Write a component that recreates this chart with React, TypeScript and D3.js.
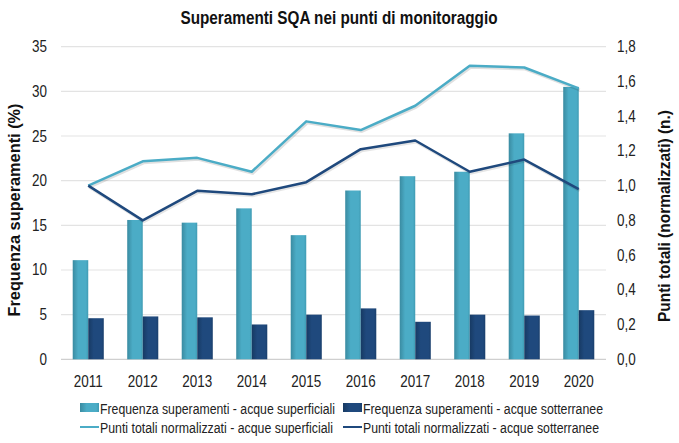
import { useEffect, useRef } from "react"
import * as d3 from "d3"

// Data
const years = ["2011", "2012", "2013", "2014", "2015", "2016", "2017", "2018", "2019", "2020"]
const freqSuperficiali = [11.1, 15.6, 15.3, 16.9, 13.9, 18.9, 20.5, 21.0, 25.3, 30.5]
const freqSotterranee = [4.6, 4.8, 4.7, 3.9, 5.0, 5.7, 4.2, 5.0, 4.9, 5.5]
const puntiSuperficiali = [1.0, 1.14, 1.16, 1.08, 1.37, 1.32, 1.46, 1.69, 1.68, 1.56]
const puntiSotterranee = [1.0, 0.8, 0.97, 0.95, 1.02, 1.21, 1.26, 1.08, 1.15, 0.98]
const leftTicks = [0, 5, 10, 15, 20, 25, 30, 35]
const rightTicks = [0, 0.2, 0.4, 0.6, 0.8, 1.0, 1.2, 1.4, 1.6, 1.8]

const LIGHT = "#4bacc6"
const DARK = "#1f497d"
const FONT = "'Liberation Sans Narrow', 'Arial Narrow', 'Liberation Sans', Arial, sans-serif"

export default function App() {
  const svgRef = useRef<SVGSVGElement>(null)

  useEffect(() => {
    if (!svgRef.current) return
    const width = 679
    const height = 443
    const left = 61
    const right = 606
    const top = 46.7
    const bottom = 359.3

    const root = d3.select(svgRef.current)
    root.selectAll("*").remove()
    root.attr("width", width).attr("height", height).style("font-family", FONT)

    // bar gradients
    const defs = root.append("defs")
    const grad = (id: string, c0: string, c1: string, c2: string) => {
      const g = defs.append("linearGradient").attr("id", id).attr("x1", "0").attr("x2", "1").attr("y1", "0").attr("y2", "0")
      g.append("stop").attr("offset", "0%").attr("stop-color", c0)
      g.append("stop").attr("offset", "35%").attr("stop-color", c1)
      g.append("stop").attr("offset", "85%").attr("stop-color", c1)
      g.append("stop").attr("offset", "100%").attr("stop-color", c2)
    }
    grad("gLight", "#3a8ba1", LIGHT, "#3f9bb3")
    grad("gDark", "#173a63", DARK, "#1a3f6c")

    const x = d3.scaleBand().domain(years).range([left, right]).paddingInner(0.43).paddingOuter(0.215)
    const x1 = d3.scaleBand().domain(["sup", "sot"]).range([0, x.bandwidth()])
    const yL = d3.scaleLinear().domain([0, 35]).range([bottom, top])
    const yR = d3.scaleLinear().domain([0, 1.8]).range([bottom, top])

    // gridlines
    root
      .append("g")
      .selectAll("line")
      .data(leftTicks)
      .join("line")
      .attr("x1", left)
      .attr("x2", right)
      .attr("y1", (d) => yL(d))
      .attr("y2", (d) => yL(d))
      .attr("stroke", (d) => (d === 0 ? "#cfcfcf" : "#e3e3e3"))
      .attr("stroke-width", 1.2)

    // left tick labels
    root
      .append("g")
      .selectAll("text")
      .data(leftTicks)
      .join("text")
      .attr("class", "tick")
      .attr("x", 47)
      .attr("y", (d) => yL(d))
      .attr("text-anchor", "end")
      .attr("dominant-baseline", "central")
      .style("font-size", "16px")
      .style("fill", "#222")
      .text((d) => d)

    // right tick labels
    const fmt = (d: number) => d.toFixed(1).replace(".", ",")
    root
      .append("g")
      .selectAll("text")
      .data(rightTicks)
      .join("text")
      .attr("class", "tick")
      .attr("x", 617)
      .attr("y", (d) => yR(d))
      .attr("text-anchor", "start")
      .attr("dominant-baseline", "central")
      .style("font-size", "16px")
      .style("fill", "#222")
      .text((d) => fmt(d))

    // bars
    const barData = years.flatMap((yr, i) => [
      { yr, key: "sup", v: freqSuperficiali[i] },
      { yr, key: "sot", v: freqSotterranee[i] },
    ])
    root
      .append("g")
      .selectAll("rect")
      .data(barData)
      .join("rect")
      .attr("x", (d) => (x(d.yr) || 0) + (x1(d.key) || 0))
      .attr("y", (d) => yL(d.v))
      .attr("width", x1.bandwidth())
      .attr("height", (d) => yL(0) - yL(d.v))
      .attr("fill", (d) => (d.key === "sup" ? "url(#gLight)" : "url(#gDark)"))

    // lines
    const cx = (yr: string) => (x(yr) || 0) + x.bandwidth() / 2
    const line = d3
      .line<number>()
      .x((_, i) => cx(years[i]))
      .y((d) => yR(d))
    const drawLine = (vals: number[], color: string, shadow: number) => {
      root
        .append("path")
        .attr("d", line(vals))
        .attr("fill", "none")
        .attr("stroke", "#000")
        .attr("stroke-opacity", shadow)
        .attr("stroke-width", 3)
        .attr("transform", "translate(1,1.5)")
      root
        .append("path")
        .attr("d", line(vals))
        .attr("fill", "none")
        .attr("stroke", color)
        .attr("stroke-width", 2.5)
        .attr("stroke-linejoin", "round")
    }
    drawLine(puntiSuperficiali, LIGHT, 0.12)
    drawLine(puntiSotterranee, DARK, 0.1)

    // x labels
    root
      .append("g")
      .selectAll("text")
      .data(years)
      .join("text")
      .attr("class", "tick")
      .attr("x", (d) => cx(d))
      .attr("y", 387)
      .attr("text-anchor", "middle")
      .style("font-size", "16px")
      .style("fill", "#222")
      .text((d) => d)

    // title
    root
      .append("text")
      .attr("x", 339)
      .attr("y", 24)
      .attr("text-anchor", "middle")
      .attr("textLength", 317)
      .attr("lengthAdjust", "spacingAndGlyphs")
      .style("font-size", "18px")
      .style("font-weight", "bold")
      .style("fill", "#111")
      .text("Superamenti SQA nei punti di monitoraggio")

    // axis titles
    root
      .append("text")
      .attr("transform", "translate(14,210) rotate(-90)")
      .attr("text-anchor", "middle")
      .attr("dominant-baseline", "central")
      .attr("textLength", 213)
      .attr("lengthAdjust", "spacingAndGlyphs")
      .style("font-size", "16px")
      .style("font-weight", "bold")
      .style("fill", "#111")
      .text("Frequenza superamenti (%)")
    root
      .append("text")
      .attr("transform", "translate(664,216) rotate(-90)")
      .attr("text-anchor", "middle")
      .attr("dominant-baseline", "central")
      .attr("textLength", 212)
      .attr("lengthAdjust", "spacingAndGlyphs")
      .style("font-size", "16px")
      .style("font-weight", "bold")
      .style("fill", "#111")
      .text("Punti totali (normalizzati) (n.)")

    // legend
    const legend = [
      { label: "Frequenza superamenti - acque superficiali", type: "bar", fill: "url(#gLight)", color: LIGHT, lx: 80, ly: 414, w: 235 },
      { label: "Frequenza superamenti - acque sotterranee", type: "bar", fill: "url(#gDark)", color: DARK, lx: 343, ly: 414, w: 240 },
      { label: "Punti totali normalizzati - acque superficiali", type: "line", fill: "none", color: LIGHT, lx: 80, ly: 433, w: 233 },
      { label: "Punti totali normalizzati - acque sotterranee", type: "line", fill: "none", color: DARK, lx: 343, ly: 433, w: 236 },
    ]
    const lg = root.append("g").selectAll("g").data(legend).join("g")
    lg.filter((d) => d.type === "bar")
      .append("rect")
      .attr("x", (d) => d.lx)
      .attr("y", (d) => d.ly - 11)
      .attr("width", 19)
      .attr("height", 9)
      .attr("fill", (d) => d.fill)
    lg.filter((d) => d.type === "line")
      .append("line")
      .attr("x1", (d) => d.lx)
      .attr("x2", (d) => d.lx + 19)
      .attr("y1", (d) => d.ly - 6)
      .attr("y2", (d) => d.ly - 6)
      .attr("stroke", (d) => d.color)
      .attr("stroke-width", 2)
    lg.append("text")
      .attr("x", (d) => d.lx + 20)
      .attr("y", (d) => d.ly)
      .attr("textLength", (d) => d.w)
      .attr("lengthAdjust", "spacingAndGlyphs")
      .style("font-size", "14px")
      .style("fill", "#222")
      .text((d) => d.label)

    // narrow the tick labels like the condensed font of the original
    root.selectAll<SVGTextElement, unknown>("text.tick").each(function () {
      const len = this.getComputedTextLength()
      this.setAttribute("textLength", String(len * 0.84))
      this.setAttribute("lengthAdjust", "spacingAndGlyphs")
    })
  }, [])

  return (
    <div style={{ position: "absolute", left: 0, top: 0 }}>
      <svg ref={svgRef} style={{ display: "block" }}></svg>
    </div>
  )
}
